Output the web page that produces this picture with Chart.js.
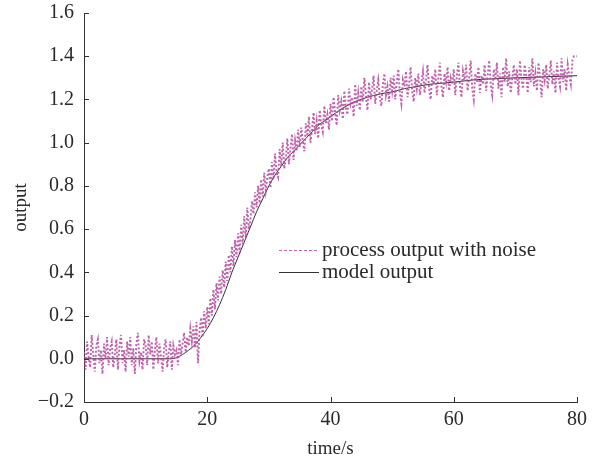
<!DOCTYPE html>
<html><head><meta charset="utf-8">
<script src="https://cdn.jsdelivr.net/npm/chart.js@4/dist/chart.umd.min.js"></script>
<style>html,body{margin:0;padding:0;background:#fff}#wrap{width:598px;height:460px;position:relative}</style>
</head><body><div id="wrap"><canvas id="c"></canvas></div>
<script>
// model output (time, value)
const modelTime = [0,2,4,6,8,10,12,14,15,16,17,18,19,20,21,22,23,24,25,26,27,28,29,30,31,32,33,34,35,36,37,38,39,40,42,44,46,48,50,52,54,56,58,60,63,66,70,75,80];
const modelValues = [0,0,0,0,0,0,0,0,0.005,0.02,0.04,0.065,0.1,0.14,0.19,0.25,0.32,0.40,0.47,0.54,0.61,0.68,0.74,0.80,0.85,0.89,0.93,0.96,0.99,1.02,1.05,1.08,1.10,1.12,1.16,1.19,1.21,1.225,1.235,1.25,1.26,1.27,1.275,1.28,1.29,1.295,1.30,1.305,1.31];
// process output with noise, sampled every 0.25 s from 0 to 80 s
const processStep = 0.25;
const processValues = [
0.03,-0.05,0.08,0.01,-0.04,0.11,0.02,-0.06,0.06,0.09,-0.02,0.04,-0.07,0.07,0.00,0.10,-0.03,0.05,0.08,-0.04,
0.02,0.09,-0.05,0.06,0.11,-0.02,0.04,-0.06,0.08,0.01,0.10,-0.03,0.05,-0.07,0.07,0.12,-0.01,0.03,-0.05,0.09,
0.06,-0.03,0.11,0.02,0.08,-0.05,0.04,0.10,-0.02,0.07,0.01,-0.06,0.05,0.09,-0.04,0.03,0.08,-0.05,0.06,0.02,
0.04,-0.03,0.09,0.02,0.07,0.12,0.03,0.10,0.06,0.14,0.08,0.15,0.05,0.17,-0.02,0.13,0.19,0.10,0.22,0.14,
0.24,0.16,0.28,0.20,0.32,0.23,0.35,0.27,0.38,0.30,0.41,0.33,0.45,0.36,0.48,0.40,0.52,0.43,0.55,0.47,
0.58,0.49,0.62,0.53,0.66,0.56,0.70,0.60,0.64,0.73,0.67,0.77,0.70,0.80,0.72,0.83,0.75,0.86,0.78,0.84,
0.88,0.79,0.91,0.83,0.95,0.86,0.84,0.97,0.89,1.00,0.88,0.93,1.02,0.90,0.97,1.04,0.92,1.01,0.96,1.06,
0.98,1.07,1.01,0.96,1.09,1.03,1.12,1.00,1.06,1.14,1.04,1.10,1.02,1.15,1.08,1.05,1.17,1.09,1.13,1.06,
1.18,1.10,1.21,1.14,1.08,1.22,1.15,1.19,1.11,1.24,1.16,1.13,1.25,1.18,1.21,1.12,1.27,1.17,1.23,1.15,
1.26,1.19,1.30,1.22,1.15,1.28,1.20,1.25,1.31,1.18,1.24,1.29,1.21,1.17,1.27,1.32,1.22,1.26,1.19,1.30,
1.24,1.31,1.20,1.28,1.34,1.23,1.18,1.29,1.26,1.33,1.21,1.27,1.35,1.24,1.19,1.30,1.25,1.32,1.22,1.28,
1.33,1.23,1.29,1.36,1.25,1.20,1.31,1.27,1.34,1.22,1.30,1.37,1.26,1.21,1.32,1.28,1.35,1.24,1.30,1.27,
1.34,1.22,1.31,1.37,1.26,1.21,1.33,1.29,1.36,1.24,1.30,1.38,1.25,1.20,1.32,1.28,1.35,1.23,1.31,1.27,
1.36,1.24,1.31,1.38,1.27,1.22,1.34,1.29,1.37,1.25,1.32,1.21,1.35,1.28,1.39,1.26,1.33,1.23,1.30,1.36,
1.27,1.34,1.22,1.38,1.29,1.25,1.36,1.31,1.23,1.35,1.28,1.39,1.26,1.32,1.24,1.37,1.30,1.21,1.34,1.29,
1.36,1.25,1.31,1.38,1.27,1.33,1.23,1.37,1.30,1.26,1.39,1.28,1.34,1.24,1.36,1.31,1.27,1.38,1.40,1.40,
1.40];
const xTicks = [0,20,40,60,80];
const yTicks = [-0.2,0,0.2,0.4,0.6,0.8,1.0,1.2,1.4,1.6];
const seriesLabels = ['process output with noise','model output'];

const FONT = '"Liberation Serif", "DejaVu Serif", serif';
const TXT = '#2a2a2a';

const inwardTicks = {
  id:'inwardTicks',
  afterDraw(chart){
    const {ctx, scales:{x,y}, chartArea:a} = chart;
    ctx.save();
    ctx.strokeStyle = '#333'; ctx.lineWidth = 1;
    xTicks.forEach(v=>{const px=Math.round(x.getPixelForValue(v))+0.5; ctx.beginPath(); ctx.moveTo(px,a.bottom); ctx.lineTo(px,a.bottom-5); ctx.stroke();});
    yTicks.forEach(v=>{const py=Math.round(y.getPixelForValue(v))+0.5; ctx.beginPath(); ctx.moveTo(a.left,py); ctx.lineTo(a.left+5,py); ctx.stroke();});
    ctx.restore();
  }
};
const legendIn = {
  id:'legendIn',
  afterDraw(chart){
    const ctx = chart.ctx;
    ctx.save();
    ctx.font = '21px ' + FONT; ctx.fillStyle = TXT; ctx.textBaseline = 'middle';
    ctx.strokeStyle = 'rgba(190,80,160,0.9)'; ctx.lineWidth = 1; ctx.setLineDash([3,2]);
    ctx.beginPath(); ctx.moveTo(279,250.5); ctx.lineTo(319,250.5); ctx.stroke();
    ctx.setLineDash([]); ctx.strokeStyle = '#333';
    ctx.beginPath(); ctx.moveTo(279,272.5); ctx.lineTo(319,272.5); ctx.stroke();
    ctx.fillText(seriesLabels[0], 322, 250);
    ctx.fillText(seriesLabels[1], 322, 272);
    ctx.restore();
  }
};

new Chart(document.getElementById('c'), {
  type:'line',
  data:{datasets:[
    {label:seriesLabels[0], data:processValues.map((v,i)=>({x:i*processStep,y:v})), borderColor:'rgba(178,70,156,0.85)', borderWidth:1.9, borderDash:[2,2], pointRadius:0, tension:0, fill:false},
    {label:seriesLabels[1], data:modelValues.map((v,i)=>({x:modelTime[i],y:v})), borderColor:'#333', borderWidth:1, pointRadius:0, tension:0.4, cubicInterpolationMode:'monotone', fill:false}
  ]},
  options:{
    responsive:true, maintainAspectRatio:false, animation:false,
    layout:{padding:{top:13,right:21,left:0,bottom:0}},
    plugins:{legend:{display:false}, tooltip:{enabled:false}},
    scales:{
      x:{type:'linear', min:0, max:80,
        afterBuildTicks(s){s.ticks = xTicks.map(v=>({value:v}));},
        afterFit(s){s.height = 58; s.paddingLeft = 0; s.paddingRight = 0;},
        grid:{display:false, drawTicks:false},
        border:{display:true,color:'#333',width:1},
        ticks:{font:{family:FONT,size:20}, color:TXT, padding:6, maxRotation:0},
        title:{display:true, text:'time/s', font:{family:FONT,size:19}, color:TXT, padding:{top:0,bottom:0}}
      },
      y:{type:'linear', min:-0.2, max:1.6,
        afterBuildTicks(s){s.ticks = yTicks.map(v=>({value:v}));},
        afterFit(s){s.width = 84; s.paddingTop = 0; s.paddingBottom = 0;},
        grid:{display:false, drawTicks:false},
        border:{display:true,color:'#333',width:1},
        ticks:{font:{family:FONT,size:20}, color:TXT, padding:10, callback:v=>(v<0?'\u2212':'')+Math.abs(v).toFixed(1)},
        title:{display:true, text:'output', font:{family:FONT,size:19}, color:TXT, padding:{top:10,bottom:0}}
      }
    }
  },
  plugins:[inwardTicks, legendIn]
});
</script></body></html>
